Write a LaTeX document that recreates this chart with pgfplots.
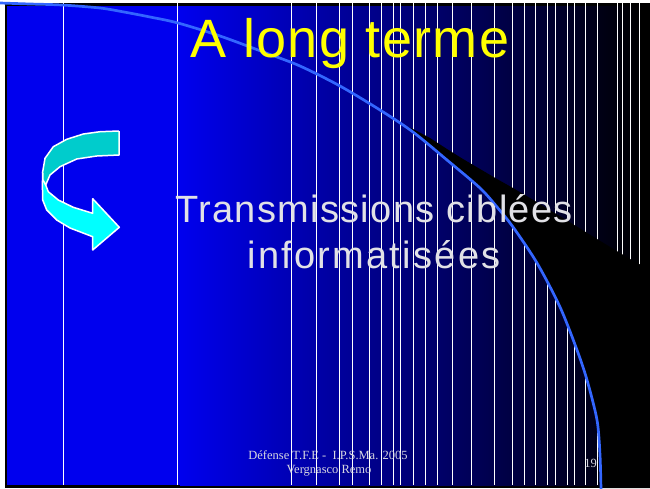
\documentclass[border=0pt]{standalone}
\usepackage{fontspec}
\usepackage{pgfplots}
\pgfplotsset{compat=1.18}
\newfontfamily\titlefont[LetterSpace=2.5]{Liberation Sans}
\newfontfamily\bodyfont[LetterSpace=3.5]{Liberation Sans}
\newfontfamily\bodyfontb[LetterSpace=6]{Liberation Sans}
\newfontfamily\footfont{Liberation Serif}
\definecolor{slideblue}{RGB}{0,0,238}
\definecolor{midblue}{RGB}{0,0,150}
\definecolor{curveblue}{RGB}{51,102,255}
\definecolor{teal1}{RGB}{0,204,204}
\definecolor{cyan1}{RGB}{0,255,255}
\definecolor{titleyellow}{RGB}{255,255,0}
\definecolor{bodygray}{RGB}{225,225,230}
\definecolor{footgray}{RGB}{215,215,225}
\begin{document}
\begin{tikzpicture}
\begin{axis}[
  width=650pt, height=488pt, scale only axis,
  xmin=0, xmax=650, ymin=0, ymax=488, y dir=reverse,
  hide axis, clip=true,
]
% page background
\addplot[fill=white, draw=none] coordinates {(0,0) (650,0) (650,488) (0,488)};
% slide frame
\addplot[fill=black, draw=none] coordinates {(5,3) (650,3) (650,488) (5,488)};
% slide background
\addplot[fill=slideblue, draw=none] coordinates {(7,6) (181,6) (181,485) (7,485)};
\addplot[draw=none, left color=slideblue, middle color=midblue, right color=black] coordinates {(180,6) (641,6) (641,485) (180,485)};
% vertical white lines
\addplot[ycomb, white, line width=1pt, mark=none] coordinates {
(63,485) (177,485) (291,485) (316,485) (339,485) (352,485) (369,485) (381,485)
(393,485) (400,485) (413,485) (425,485) (437,485) (452,485) (471,485) (494,485)
(512,485) (524,485) (535,485) (547,485) (555,485) (567,485) (574,485) (585,485)
(597,485) (617,485) (622,485) (630,485) (639,485)};
% black wedge
\addplot[fill=black, draw=none] coordinates {
(398,122) (415,130) (430,138) (447,149) (463,159) (480,169) (497,179) (513,188) (530,198)
(563,218) (597,239) (630,259) (650,270)
(650,488) (601,488) (600,463) (598,430) (593,403) (587,380) (577,350) (560,307)
(537,263) (513,227) (497,207) (480,188) (447,160) (413,132) (398,121)};
% light blue curve
\addplot[curveblue, line width=2.7pt, smooth, mark=none] coordinates {
(0,3) (30,4) (62,5) (100,8) (124,12) (150,17) (178,23) (220,36) (266,53) (300,66)
(340,86) (380,110) (413,132) (447,160) (480,188) (497,207) (513,227) (537,263)
(560,307) (577,350) (587,380) (597,420) (600,455) (601,490)};
% curved arrow: lower band
\addplot[fill=cyan1, draw=white, line width=1.5pt, line join=round] coordinates {
(42.7,172) (42.4,185) (42.7,200) (46.7,210) (56.7,220) (70,228) (92.7,236.7)
(92.7,250) (119.3,227.3) (92.7,198.7) (92.7,213.3) (73.3,207.3) (58.3,200)
(48.3,191.7) (45.7,185) (42.7,172)};
% curved arrow: upper band
\addplot[fill=teal1, draw=white, line width=1.5pt, line join=round] coordinates {
(119,131) (100,131.7) (83.3,134) (66.7,139.3) (53.3,146.7) (45,158.3) (42.7,171.7)
(43,180) (45.7,185) (50,175) (60,166.7) (76.7,159) (96.7,156) (119,155) (119,131)};
% texts
\node[anchor=base, text=titleyellow, font=\titlefont\fontsize{54}{60}\selectfont, inner sep=0pt]
  at (axis cs:350,57) {A long terme};
\node[anchor=base, text=bodygray, font=\bodyfont\fontsize{38}{44}\selectfont, inner sep=0pt]
  at (axis cs:374,222) {Transmissions ciblées};
\node[anchor=base, text=bodygray, font=\bodyfontb\fontsize{38}{44}\selectfont, inner sep=0pt]
  at (axis cs:374,268) {informatisées};
\node[anchor=base, text=footgray, font=\footfont\fontsize{12.5}{14}\selectfont, inner sep=0pt]
  at (axis cs:328,459) {Défense T.F.E -\ \ I.P.S.Ma. 2005};
\node[anchor=base, text=footgray, font=\footfont\fontsize{12.5}{14}\selectfont, inner sep=0pt]
  at (axis cs:329,473) {Vergnasco Remo};
\node[anchor=base east, text=footgray, font=\footfont\fontsize{12.5}{14}\selectfont, inner sep=0pt]
  at (axis cs:597,467) {19};
\end{axis}
\end{tikzpicture}
\end{document}
